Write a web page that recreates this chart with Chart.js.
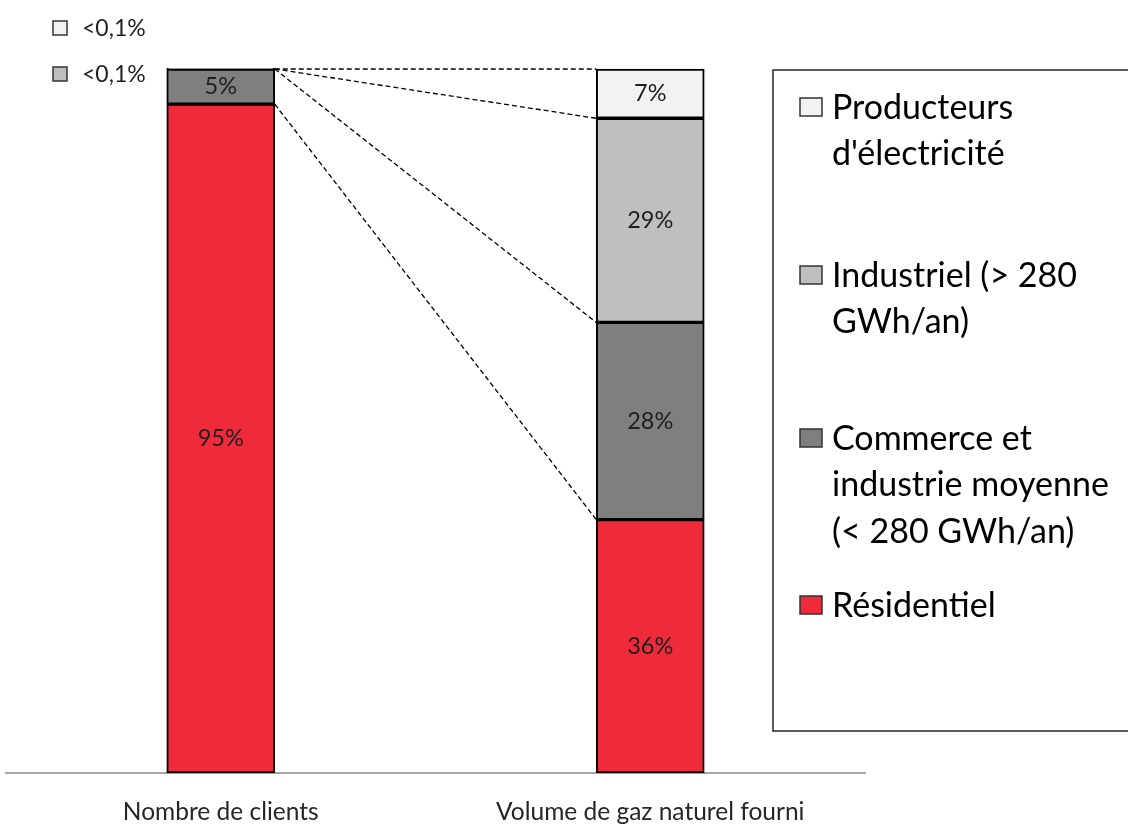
<!DOCTYPE html>
<html>
<head>
<meta charset="utf-8">
<script src="https://cdn.jsdelivr.net/npm/chart.js@4.4.1/dist/chart.umd.min.js"></script>
<style>
  html, body { margin: 0; padding: 0; background: #fff; }
  #wrap { width: 1128px; height: 825px; position: relative; }
</style>
</head>
<body>
<div id="wrap"><canvas id="c" width="1128" height="825"></canvas></div>
<script>
// Categories and shares (%) per customer segment, stacked bottom to top
const categories = ['Nombre de clients', 'Volume de gaz naturel fourni'];
const residentiel = [95, 36];
const commerce = [5, 28];
const industriel = [0.05, 29];
const producteurs = [0.05, 7];

const seriesNames = [
  'Résidentiel',
  'Commerce et industrie moyenne (< 280 GWh/an)',
  'Industriel (> 280 GWh/an)',
  "Producteurs d'électricité"
];
// Wrapped legend text, top entry first
const legendLines = [
  ['Producteurs', "d'électricité"],
  ['Industriel (> 280', 'GWh/an)'],
  ['Commerce et', 'industrie moyenne', '(< 280 GWh/an)'],
  ['Résidentiel']
];
const tinyNote = '<0,1%';

const colors = ['#EE2A3B', '#7F7F7F', '#BFBFBF', '#F2F2F2'];
const FONT = 'Lato, "Open Sans", sans-serif';

const seriesData = [residentiel, commerce, industriel, producteurs];

const datasets = seriesData.map((d, i) => ({
  label: seriesNames[i],
  data: d,
  backgroundColor: colors[i],
  borderColor: '#000',
  borderWidth: 2,
  borderSkipped: false,
  barThickness: 108,
  clip: false
}));

// Value labels inside segments, dashed connectors between the two bars,
// side notes for the very small shares and the boxed legend
const overlay = {
  id: 'overlay',
  afterDatasetsDraw(chart) {
    const ctx = chart.ctx;
    const y = chart.scales.y;
    ctx.save();

    // dashed connectors from the top of each segment
    ctx.strokeStyle = '#000';
    ctx.lineWidth = 1.3;
    ctx.setLineDash([5, 3]);
    let cum0 = 0, cum1 = 0;
    chart.data.datasets.forEach((ds, i) => {
      cum0 += ds.data[0];
      cum1 += ds.data[1];
      const m = chart.getDatasetMeta(i);
      const b0 = m.data[0], b1 = m.data[1];
      const x0 = b0.x + b0.width / 2;
      const x1 = b1.x - b1.width / 2;
      ctx.beginPath();
      ctx.moveTo(x0, y.getPixelForValue(Math.min(cum0, 100)));
      ctx.lineTo(x1, y.getPixelForValue(Math.min(cum1, 100)));
      ctx.stroke();
    });
    ctx.setLineDash([]);

    // value labels
    ctx.fillStyle = '#1f1f1f';
    ctx.font = '23.5px ' + FONT;
    ctx.textAlign = 'center';
    ctx.textBaseline = 'middle';
    chart.data.datasets.forEach((ds, i) => {
      const m = chart.getDatasetMeta(i);
      m.data.forEach((el, j) => {
        const v = ds.data[j];
        if (v >= 1) {
          ctx.fillText(v + '%', el.x, (el.y + el.base) / 2);
        }
      });
    });

    // side notes for the two tiny shares of the first bar
    const notes = [{ color: colors[3], yc: 28 }, { color: colors[2], yc: 74 }];
    ctx.textAlign = 'left';
    ctx.font = '23px ' + FONT;
    notes.forEach(n => {
      ctx.fillStyle = n.color;
      ctx.fillRect(53, n.yc - 7, 14, 14);
      ctx.strokeStyle = '#333';
      ctx.lineWidth = 1.5;
      ctx.strokeRect(53, n.yc - 7, 14, 14);
      ctx.fillStyle = '#1f1f1f';
      ctx.fillText(tinyNote, 82, n.yc + 1);
    });

    // legend frame
    ctx.strokeStyle = '#262626';
    ctx.lineWidth = 1.5;
    ctx.strokeRect(773, 70, 360, 661);

    // legend entries
    const entryTop = [107, 275, 438, 605];
    const lineGap = 46.5;
    const order = [3, 2, 1, 0];
    ctx.font = '34px ' + FONT;
    legendLines.forEach((lines, k) => {
      const yc = entryTop[k];
      ctx.fillStyle = colors[order[k]];
      ctx.fillRect(800, yc - 9, 22, 18);
      ctx.strokeStyle = '#333';
      ctx.lineWidth = 1.5;
      ctx.strokeRect(800, yc - 9, 22, 18);
      ctx.fillStyle = '#000';
      lines.forEach((t, r) => ctx.fillText(t, 832, yc + 1 + r * lineGap));
    });

    ctx.restore();
  }
};

new Chart(document.getElementById('c'), {
  type: 'bar',
  data: { labels: categories, datasets },
  options: {
    responsive: false,
    animation: false,
    layout: { padding: { top: 69, left: 6, right: 263, bottom: 0 } },
    plugins: { legend: { display: false }, tooltip: { enabled: false } },
    scales: {
      x: {
        stacked: true,
        grid: { display: false, drawTicks: false },
        border: { display: true, color: '#A6A6A6', width: 2 },
        ticks: { color: '#262626', font: { family: FONT, size: 24.5 }, padding: 24 },
        afterFit(scale) { scale.height = 52; }
      },
      y: {
        stacked: true,
        display: false,
        min: 0,
        max: 100
      }
    }
  },
  plugins: [overlay]
});
</script>
</body>
</html>
